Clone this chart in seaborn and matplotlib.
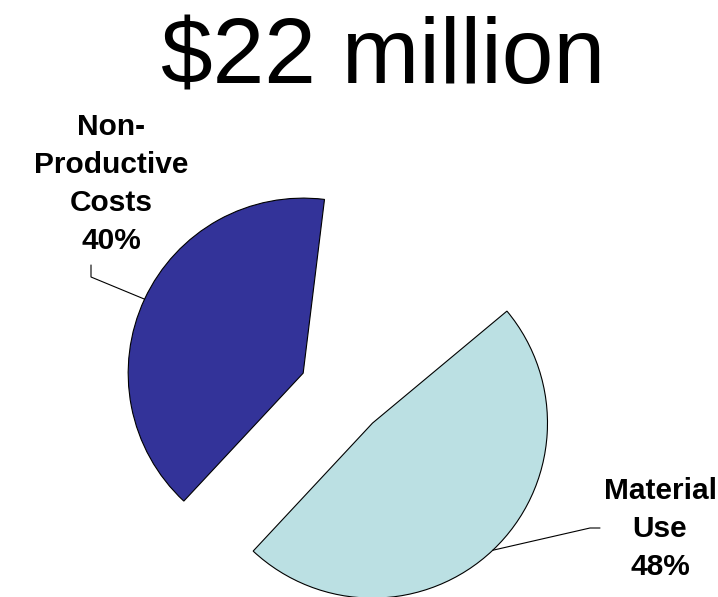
import numpy as np
import matplotlib
matplotlib.use("Agg")
import matplotlib.pyplot as plt
import seaborn as sns

# Cost breakdown (percent of total)
categories = ["Non-Productive Costs", "Material Use", "Other"]
label_text = ["Non-\nProductive\nCosts", "Material\nUse", None]
shares = [40, 48, 12]
colors = ["#333399", "#BBE0E3", "#FFFFFF"]
title = "$22 million"

sns.set_style("white")
plt.rcParams["font.family"] = ["Liberation Sans", "DejaVu Sans"]

W, H = 718, 597
fig = plt.figure(figsize=(W / 100, H / 100), dpi=100)
ax = fig.add_axes([0, 0, 1, 1])

radius = 175
center = (342.6, 205.5)
explode = [43.5, 43.5, 43.5]

wedges, _ = ax.pie(
    shares, colors=colors, radius=radius, center=center, explode=explode,
    startangle=83, counterclock=True, frame=True,
    wedgeprops=dict(edgecolor="black", linewidth=0.8),
)
# the remaining share is left blank
wedges[2].set_visible(False)
ax.set_xlim(0, W)
ax.set_ylim(0, H)
ax.set_axis_off()

# label placement (text block centre, leader elbow points)
label_pos = [(111, 413), (660, 68)]
leader_pts = [[(91, 332), (91, 320)], [(600, 69), (590, 69)]]

for i in range(2):
    w = wedges[i]
    mid = np.deg2rad(0.5 * (w.theta1 + w.theta2))
    cx, cy = w.center
    arc_pt = (cx + w.r * np.cos(mid), cy + w.r * np.sin(mid))
    pts = leader_pts[i] + [arc_pt]
    ax.plot([p[0] for p in pts], [p[1] for p in pts], color="black", lw=0.8)
    ax.text(label_pos[i][0], label_pos[i][1],
            f"{label_text[i]}\n{shares[i]}%",
            ha="center", va="center", fontsize=21.5, fontweight="bold",
            linespacing=1.45, color="black")

ax.text(383, 514, title, ha="center", va="baseline", fontsize=67, color="black")

fig.savefig("out.png", dpi=100)
